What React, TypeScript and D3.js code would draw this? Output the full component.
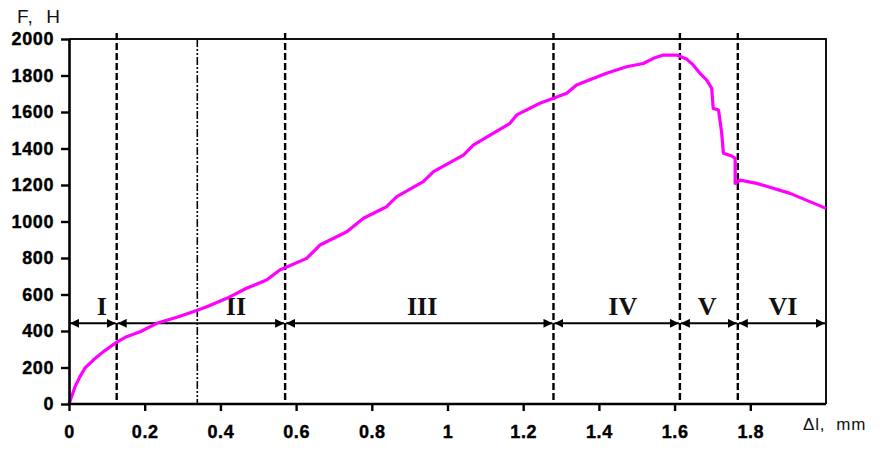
import React, { useEffect, useRef } from 'react';
import * as d3 from 'd3';

// elongation (mm) and force (N)
const strainMm = [0, 0.016, 0.029, 0.042, 0.064, 0.091, 0.122, 0.152, 0.188, 0.232, 0.285, 0.328, 0.364, 0.417, 0.469, 0.522,
  0.557, 0.628, 0.663, 0.734, 0.778, 0.839, 0.866, 0.936, 0.963, 1.042, 1.068, 1.165, 1.183, 1.244, 1.28, 1.315, 1.341,
  1.42, 1.473, 1.517, 1.544, 1.57, 1.605, 1.632, 1.649, 1.667, 1.685, 1.698, 1.702, 1.716, 1.724, 1.729, 1.751, 1.76,
  1.76, 1.773, 1.817, 1.905, 2.0];
const forceN = [0, 95, 150, 196, 241, 287, 333, 369, 396, 442, 475, 506, 533, 579, 634, 679,
  734, 798, 871, 944, 1018, 1081, 1136, 1218, 1273, 1364, 1419, 1538, 1584, 1648, 1675, 1703, 1748,
  1812, 1848, 1866, 1894, 1912, 1912, 1890, 1858, 1812, 1775, 1730, 1620, 1611, 1492, 1374, 1359, 1346,
  1209, 1227, 1209, 1154, 1072];

const xTicks = [0, 0.2, 0.4, 0.6, 0.8, 1, 1.2, 1.4, 1.6, 1.8];
const yTicks = [0, 200, 400, 600, 800, 1000, 1200, 1400, 1600, 1800, 2000];

// stage boundaries
const stageBounds = [0, 0.126, 0.571, 1.28, 1.614, 1.767, 2.0];
const dashedLines = [0.126, 0.571, 1.28, 1.614, 1.767];
const dashDotLines = [0.339];
const stageNames = ['I', 'II', 'III', 'IV', 'V', 'VI'];
const stageLabelX = [0.087, 0.441, 0.933, 1.463, 1.686, 1.886];
const arrowLevel = 442;

export default function App() {
  const ref = useRef<SVGSVGElement>(null);

  useEffect(() => {
    const svg = d3.select(ref.current);
    svg.selectAll('*').remove();

    const x = d3.scaleLinear().domain([0, 2]).range([69, 826]);
    const y = d3.scaleLinear().domain([0, 2000]).range([404, 39]);

    const defs = svg.append('defs');
    defs.append('marker')
      .attr('id', 'arr')
      .attr('viewBox', '0 0 10 10')
      .attr('refX', 10).attr('refY', 5)
      .attr('markerWidth', 9).attr('markerHeight', 9)
      .attr('markerUnits', 'userSpaceOnUse')
      .attr('orient', 'auto-start-reverse')
      .append('path').attr('d', 'M0,0L10,5L0,10Z').attr('fill', '#000');

    // frame top + right
    svg.append('path')
      .attr('d', `M${x(0)},${y(2000)}H${x(2)}V${y(0)}`)
      .attr('fill', 'none').attr('stroke', '#111').attr('stroke-width', 2);

    // stage boundaries
    svg.append('g').selectAll('line').data(dashedLines).join('line')
      .attr('x1', d => x(d)).attr('x2', d => x(d))
      .attr('y1', y(2000) - 6).attr('y2', y(0))
      .attr('stroke', '#000').attr('stroke-width', 2.4).attr('stroke-dasharray', '7,3');
    svg.append('g').selectAll('line').data(dashDotLines).join('line')
      .attr('x1', d => x(d)).attr('x2', d => x(d))
      .attr('y1', y(2000)).attr('y2', y(0))
      .attr('stroke', '#000').attr('stroke-width', 1.6).attr('stroke-dasharray', '8,2,2,2,2,2');

    // stage arrows
    const segs = d3.pairs(stageBounds);
    svg.append('g').selectAll('line').data(segs).join('line')
      .attr('x1', d => x(d[0]) + 1).attr('x2', d => x(d[1]) - 1)
      .attr('y1', y(arrowLevel)).attr('y2', y(arrowLevel))
      .attr('stroke', '#000').attr('stroke-width', 2)
      .attr('marker-start', 'url(#arr)').attr('marker-end', 'url(#arr)');

    svg.append('g').selectAll('text').data(stageNames).join('text')
      .attr('x', (d, i) => x(stageLabelX[i]))
      .attr('y', 315)
      .attr('text-anchor', 'middle')
      .attr('font-family', '"Liberation Serif", "DejaVu Serif", serif')
      .attr('font-weight', 'bold')
      .attr('font-size', 26)
      .attr('fill', '#111')
      .text(d => d);

    // curve
    const pts = strainMm.map((s, i) => [s, forceN[i]] as [number, number]);
    svg.append('path')
      .datum(pts)
      .attr('fill', 'none')
      .attr('stroke', '#ff00ff')
      .attr('stroke-width', 3.2)
      .attr('stroke-linejoin', 'round')
      .attr('d', d3.line<[number, number]>().x(d => x(d[0])).y(d => y(d[1])));

    // axes
    const xAxis = svg.append('g')
      .attr('transform', `translate(0,${y(0)})`)
      .call(d3.axisBottom(x).tickValues(xTicks).tickSize(7).tickSizeOuter(0).tickPadding(14).tickFormat(d => String(d)));
    const yAxis = svg.append('g')
      .attr('transform', `translate(${x(0)},0)`)
      .call(d3.axisLeft(y).tickValues(yTicks).tickSize(8).tickSizeOuter(0).tickPadding(7).tickFormat(d => String(d)));
    [xAxis, yAxis].forEach(g => {
      g.select('.domain').attr('stroke', '#000').attr('stroke-width', 2.6);
      g.selectAll('.tick line').attr('stroke', '#000').attr('stroke-width', 2.4);
      g.selectAll('.tick text')
        .attr('fill', '#000')
        .attr('stroke', '#000')
        .attr('stroke-width', 0.4)
        .attr('font-family', '"Liberation Sans", Arial, sans-serif')
        .attr('font-weight', 'bold')
        .attr('font-size', 18)
        .attr('letter-spacing', 0.6);
    });
    xAxis.select('.domain').attr('d', `M${x(0)},0H${x(2)}`);

    svg.append('text')
      .attr('x', 17).attr('y', 23)
      .attr('font-family', '"Liberation Sans", Arial, sans-serif')
      .attr('font-size', 19)
      .attr('letter-spacing', 1)
      .attr('fill', '#111')
      .text('F,  H')
      .style('white-space', 'pre');

    svg.append('text')
      .attr('x', 803).attr('y', 430)
      .attr('font-family', '"Liberation Sans", Arial, sans-serif')
      .attr('font-size', 17)
      .attr('letter-spacing', 0.8)
      .attr('fill', '#111')
      .text('Δl,  mm')
      .style('white-space', 'pre');
  }, []);

  return (
    <svg ref={ref} width={887} height={453}
      style={{ position: 'absolute', left: 0, top: 0, background: '#fff' }} />
  );
}
